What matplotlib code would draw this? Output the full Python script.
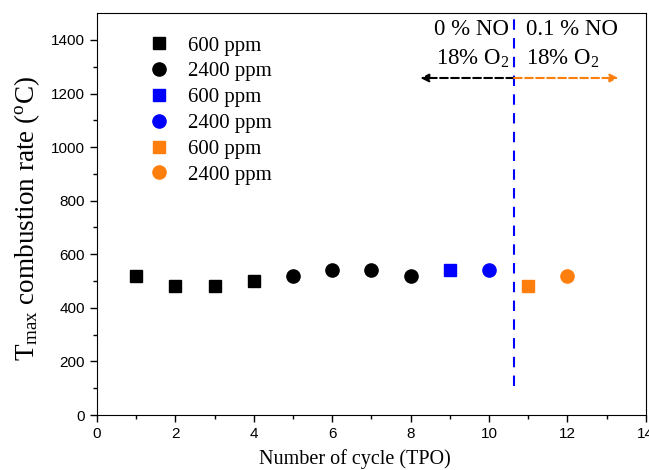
import matplotlib
matplotlib.use("Agg")
import matplotlib.pyplot as plt

plt.rcParams["mathtext.fontset"] = "custom"
plt.rcParams["mathtext.rm"] = "Liberation Serif"
plt.rcParams["mathtext.it"] = "Liberation Serif:italic"

# data
x_sq_black = [1, 2, 3, 4]
y_sq_black = [520, 480, 480, 500]
x_ci_black = [5, 6, 7, 8]
y_ci_black = [520, 540, 540, 520]
x_sq_blue = [9]
y_sq_blue = [540]
x_ci_blue = [10]
y_ci_blue = [540]
x_sq_orange = [11]
y_sq_orange = [480]
x_ci_orange = [12]
y_ci_orange = [520]
labels = ["600 ppm", "2400 ppm", "600 ppm", "2400 ppm", "600 ppm", "2400 ppm"]

orange = "#ff7f0e"
serif = "Liberation Serif"

fig = plt.figure(figsize=(6.49, 4.70), dpi=100)
ax = fig.add_axes([0.1495, 0.117, 0.8455, 0.855])

ax.plot(x_sq_black, y_sq_black, "s", color="black", ms=8.5, ls="none", label=labels[0])
ax.plot(x_ci_black, y_ci_black, "o", color="black", ms=9.5, ls="none", label=labels[1])
ax.plot(x_sq_blue, y_sq_blue, "s", color="blue", ms=8.5, ls="none", label=labels[2])
ax.plot(x_ci_blue, y_ci_blue, "o", color="blue", ms=9.5, ls="none", label=labels[3])
ax.plot(x_sq_orange, y_sq_orange, "s", color=orange, ms=8.5, ls="none", label=labels[4])
ax.plot(x_ci_orange, y_ci_orange, "o", color=orange, ms=9.5, ls="none", label=labels[5])

# divider and arrows
xdiv = 10.64
ax.plot([xdiv, xdiv], [110, 1500], color="blue", ls=(0, (5, 4)), lw=1.5)
ax.annotate("", xy=(8.25, 1258), xytext=(xdiv, 1258),
            arrowprops=dict(arrowstyle="-|>", color="black", ls="--", lw=1.5,
                            mutation_scale=12, shrinkA=0, shrinkB=0))
ax.annotate("", xy=(13.3, 1258), xytext=(xdiv, 1258),
            arrowprops=dict(arrowstyle="-|>", color=orange, ls="--", lw=1.5,
                            mutation_scale=12, shrinkA=0, shrinkB=0))

ax.text(10.52, 1440, "0 % NO", ha="right", va="center", fontsize=16.5, family=serif)
ax.text(10.52, 1330, "18% O$_2$", ha="right", va="center", fontsize=16.5, family=serif)
ax.text(10.95, 1440, "0.1 % NO", ha="left", va="center", fontsize=16.5, family=serif)
ax.text(10.95, 1330, "18% O$_2$", ha="left", va="center", fontsize=16.5, family=serif)

ax.set_xlim(0, 14)
ax.set_ylim(0, 1500)
ax.set_xticks(range(0, 15, 2))
ax.set_xticks(range(1, 14, 2), minor=True)
ax.set_yticks(range(0, 1401, 200))
ax.set_yticks(range(100, 1500, 200), minor=True)
ax.tick_params(which="both", direction="out", labelsize=11)
ax.tick_params(which="major", length=5, width=1)
ax.tick_params(which="minor", length=3, width=1)
for lab in ax.get_xticklabels() + ax.get_yticklabels():
    lab.set_family("Liberation Sans")

ax.set_xlabel("Number of cycle (TPO)", fontsize=14.5, family=serif)
ax.xaxis.set_label_coords(0.47, -0.085)
ax.set_ylabel("T$_{\\rm max}$ combustion rate ($^{\\rm o}$C)", fontsize=19.5, family=serif)
ax.yaxis.set_label_coords(-0.1, 0.49)

leg = ax.legend(loc="upper left", bbox_to_anchor=(0.06, 0.99), frameon=False,
                prop={"family": serif, "size": 15}, handletextpad=0.9,
                labelspacing=0.3, handlelength=1.0)

fig.savefig("out.png", dpi=100)
